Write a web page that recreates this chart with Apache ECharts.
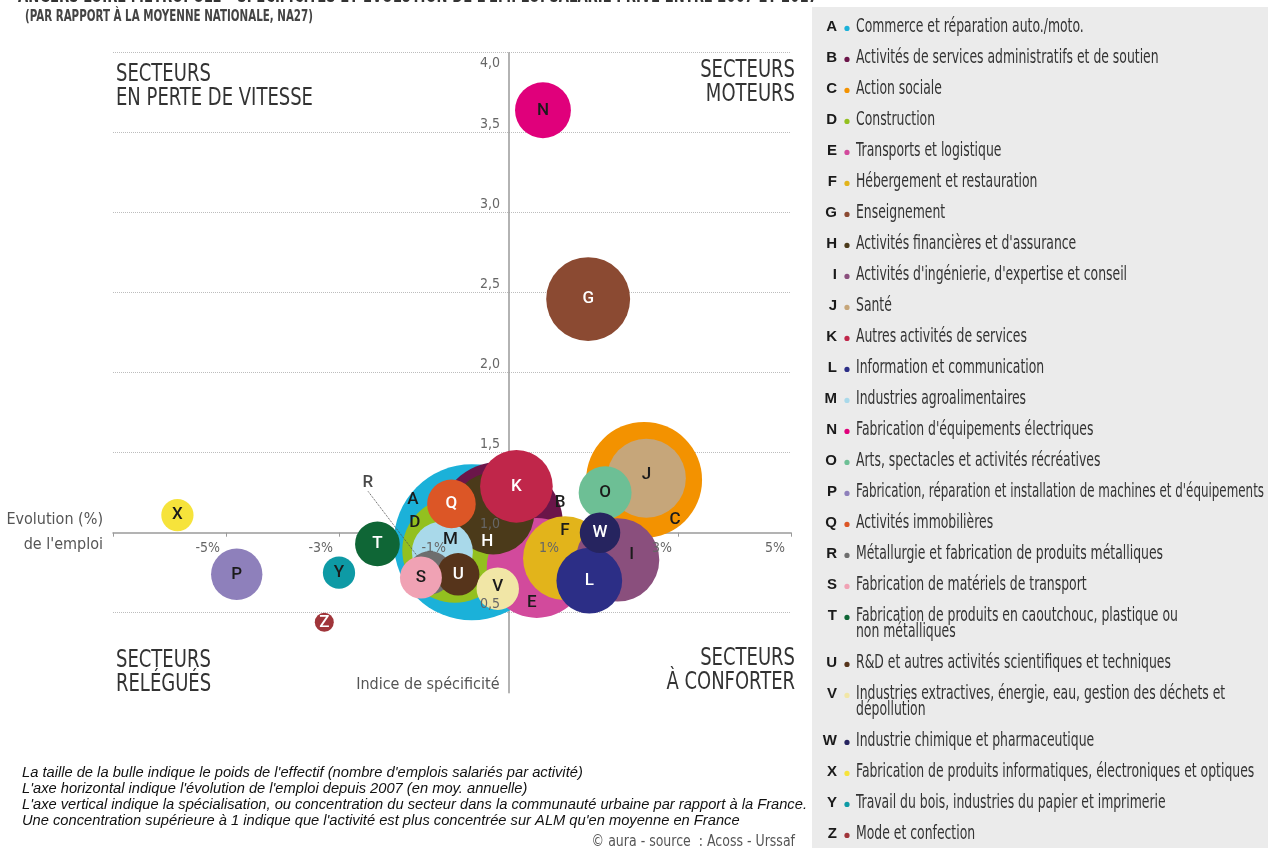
<!DOCTYPE html>
<html><head><meta charset="utf-8">
<script src="https://cdn.jsdelivr.net/npm/echarts@6/dist/echarts.min.js"></script>
<style>html,body{margin:0;padding:0;background:#fff}#chart{width:1268px;height:848px}</style>
</head><body><div id="chart"></div>
<script>
// ---- data ----
const letters = ['A','B','C','D','E','F','G','H','I','J','K','L','M','N','O','P','Q','R','S','T','U','V','W','X','Y','Z'];
const sectors = [
  'Commerce et réparation auto./moto.',
  'Activités de services administratifs et de soutien',
  'Action sociale',
  'Construction',
  'Transports et logistique',
  'Hébergement et restauration',
  'Enseignement',
  "Activités financières et d'assurance",
  "Activités d'ingénierie, d'expertise et conseil",
  'Santé',
  'Autres activités de services',
  'Information et communication',
  'Industries agroalimentaires',
  "Fabrication d'équipements électriques",
  'Arts, spectacles et activités récréatives',
  "Fabrication, réparation et installation de machines et d'équipements",
  'Activités immobilières',
  'Métallurgie et fabrication de produits métalliques',
  'Fabrication de matériels de transport',
  'Fabrication de produits en caoutchouc, plastique ou\nnon métalliques',
  'R&D et autres activités scientifiques et techniques',
  'Industries extractives, énergie, eau, gestion des déchets et\ndépollution',
  'Industrie chimique et pharmaceutique',
  'Fabrication de produits informatiques, électroniques et optiques',
  'Travail du bois, industries du papier et imprimerie',
  'Mode et confection'
];
// évolution annuelle moyenne de l'emploi depuis 2007 (%)
const evolution   = [-0.65,-0.15,2.40,-0.95,0.50,1.00,1.41,-0.27,1.93,2.44,0.14,1.43,-1.17,0.61,1.71,-4.81,-1.01,-1.39,-1.55,-2.32,-0.89,-0.19,1.62,-5.86,-3.00,-3.26];
// indice de spécificité
const specificite = [0.94,1.05,1.33,0.89,0.78,0.84,2.46,1.12,0.83,1.34,1.29,0.70,0.88,3.64,1.25,0.74,1.18,0.75,0.72,0.93,0.74,0.65,1.00,1.11,0.75,0.44];
// poids de l'effectif (relatif)
const poids       = [608,397,336,276,250,176,176,168,174,156,132,108,93,78,70,66,59,47,44,50,45,45,41,26,26,9];

const title = "ANGERS LOIRE MÉTROPOLE – SPÉCIFICITÉS ET ÉVOLUTION DE L'EMPLOI SALARIÉ PRIVÉ ENTRE 2007 ET 2017";
const subtitle = '(PAR RAPPORT À LA MOYENNE NATIONALE, NA27)';
const notes = [
  "La taille de la bulle indique le poids de l'effectif (nombre d'emplois salariés par activité)",
  "L'axe horizontal indique l'évolution de l'emploi depuis 2007 (en moy. annuelle)",
  "L'axe vertical indique la spécialisation, ou concentration du secteur dans la communauté urbaine par rapport à la France.",
  "Une concentration supérieure à 1 indique que l'activité est plus concentrée sur ALM qu'en moyenne en France"
];
const source = '© aura - source  : Acoss - Urssaf';
const quadrants = ['SECTEURS\nEN PERTE DE VITESSE','SECTEURS\nMOTEURS','SECTEURS\nRELÉGUÉS','SECTEURS\nÀ CONFORTER'];

// ---- styles / layout ----
const colors = ['#1bb1d9','#6b1549','#f39200','#93c01f','#d24a9c','#e2b41b','#8b4a32','#4b3a1a','#8a4f7d','#c6a67a',
  '#c0264a','#2c2e86','#a9d9ea','#e0007b','#6dbf95','#8e80bb','#dc5626','#6e6e6e','#f0a2b4','#0f6636',
  '#56341b','#f1e6a6','#26245f','#f6e33b','#0e9aa5','#a0353a'];
const whiteLabels = 'GHKLQTUWZ';
const calloutLetters = 'R';   // labels drawn outside their bubble with a leader line
const labelNudge = {A:[-59,-43],B:[60,-22],C:[31,40],D:[-40,-28],E:[-5,35],F:[0,-28],H:[-6,28],I:[14,-5],J:[0,-4],M:[8,-12],V:[0,-2],R:[-62,-90]};
const NARROW = '"DejaVu Sans Condensed","Liberation Sans Narrow",sans-serif';
const GRID = {left:113, right:477, top:52.7, bottom:155.3};
const X_MIN = -7, X_MAX = 5, Y_MIN = 0, Y_MAX = 4;
const gridW = 1268 - GRID.left - GRID.right, gridH = 848 - GRID.top - GRID.bottom;
const xZeroOffset = -gridW * (0 - X_MIN) / (X_MAX - X_MIN);   // move label axis onto x = 0
const yOneOffset  = -gridH * (1 - Y_MIN) / (Y_MAX - Y_MIN);   // horizontal axis crosses at indice = 1
const bubbleSize = val => 2*Math.sqrt(val[2]*10);
const labelFont = {fontFamily:'Roboto,sans-serif', fontWeight:500, fontSize:17};

const order = letters.map((l,i)=>i).sort((a,b)=>poids[b]-poids[a]);
const data = order.map(i => ({
  name: sectors[i].replace('\n',' '),
  value: [evolution[i], specificite[i], poids[i]],
  itemStyle: {color: colors[i]},
  label: {show: !calloutLetters.includes(letters[i]), formatter: letters[i],
          color: whiteLabels.includes(letters[i]) ? '#ffffff' : '#1b1b1b'}
}));
const calloutIdx = letters.map((l,i)=>i).filter(i => calloutLetters.includes(letters[i]));
const calloutData = calloutIdx.map(i => ({
  name: sectors[i], value: [evolution[i], specificite[i], poids[i]],
  label: {formatter: letters[i]}
}));

// ---- graphics: legend panel, quadrant titles, notes ----
const measure = document.createElement('canvas').getContext('2d');
const LEG_FONT = '20px ' + NARROW, LEG_MAXW = 408;
measure.font = LEG_FONT;
const g = [];
g.push({type:'rect', silent:true, shape:{x:812,y:7,width:456,height:841}, style:{fill:'#ebebeb'}});
const ROW = 31.0, EXTRA = 16, LH = 16.5;
let cursor = 10.9;
letters.forEach((l,i)=>{
  const n = sectors[i].split('\n').length;
  const y1 = cursor + ROW/2;
  cursor += ROW + EXTRA*(n-1);
  const w = Math.max(...sectors[i].split('\n').map(s => measure.measureText(s).width));
  const sx = Math.min(0.69, LEG_MAXW / w);
  g.push({type:'text', x:837, y:y1, style:{text:l, font:'bold 15px "Liberation Sans",Arial,sans-serif', fill:'#1a1a1a', align:'right', verticalAlign:'middle', textAlign:'right', textVerticalAlign:'middle'}});
  g.push({type:'circle', shape:{cx:847, cy:y1+2, r:2.6}, style:{fill:colors[i]}});
  g.push({type:'text', x:856, y:y1-LH/2, scaleX:sx, style:{text:sectors[i], font:LEG_FONT, fill:'#333', lineHeight:LH, align:'left', verticalAlign:'top', textAlign:'left', textVerticalAlign:'top'}});
});
const quadPos = [[116,62,'left'],[795,58,'right'],[116,648,'left'],[795,646,'right']];
quadrants.forEach((q,k)=>{
  g.push({type:'text', x:quadPos[k][0], y:quadPos[k][1], scaleX:0.80, style:{text:q, font:'25px '+NARROW, fill:'#333', lineHeight:24, align:quadPos[k][2], textAlign:quadPos[k][2], verticalAlign:'top', textVerticalAlign:'top'}});
});
g.push({type:'text', x:18, y:-4, scaleX:0.665, style:{text:title, font:'bold 22px '+NARROW, fill:'#333', align:'left', textAlign:'left', verticalAlign:'middle', textVerticalAlign:'middle'}});
g.push({type:'text', x:25, y:17, scaleX:0.716, style:{text:subtitle, font:'bold 16px '+NARROW, fill:'#444', align:'left', textAlign:'left', verticalAlign:'middle', textVerticalAlign:'middle'}});
g.push({type:'text', x:22, y:765, style:{text:notes.join('\n'), font:'italic 14.7px "Liberation Sans",Arial,sans-serif', fill:'#111', lineHeight:16, align:'left', textAlign:'left', verticalAlign:'top', textVerticalAlign:'top'}});
g.push({type:'text', x:795, y:842, scaleX:0.93, style:{text:source, font:'15px '+NARROW, fill:'#555', align:'right', textAlign:'right', verticalAlign:'middle', textVerticalAlign:'middle'}});

const axisGrey = '#9a9a9a';
const splitColors = ['rgba(0,0,0,0)','#bdbdbd','rgba(0,0,0,0)','#bdbdbd','#bdbdbd','#bdbdbd','#bdbdbd','#bdbdbd','#bdbdbd'];
const fmtDec = v => v.toFixed(1).replace('.',',');
const tickFont = {fontFamily:NARROW, fontSize:14, color:'#666'};

const option = {
  animation: false,
  backgroundColor: '#ffffff',
  grid: Object.assign({outerBoundsMode:'none', containLabel:false}, GRID),
  xAxis: [
    {type:'value', min:X_MIN, max:X_MAX, interval:2, position:'bottom', offset:yOneOffset,
     axisLine:{show:true, onZero:false, lineStyle:{color:axisGrey, width:1.5}},
     axisTick:{show:true, length:4, lineStyle:{color:axisGrey}},
     axisLabel:{show:false}, splitLine:{show:false},
     name:"Evolution (%)\nde l'emploi", nameLocation:'start', nameGap:10, nameMoveOverlap:false,
     nameTextStyle:{fontFamily:NARROW, fontSize:16, color:'#555', lineHeight:25, align:'right', verticalAlign:'middle', padding:[5,0,0,0]}},
    {type:'value', min:X_MIN, max:X_MAX, interval:2, position:'bottom', offset:yOneOffset, z:10,
     axisLine:{show:false, onZero:false}, axisTick:{show:false}, splitLine:{show:false},
     axisLabel:Object.assign({show:true, margin:9, align:'right', padding:[0,6,0,0],
       formatter: v => v === X_MIN ? '' : v + '%'}, tickFont)}
  ],
  yAxis: [
    {type:'value', min:Y_MIN, max:Y_MAX, interval:0.5, position:'left',
     axisLine:{show:true, onZero:true, lineStyle:{color:axisGrey, width:1.5}},
     axisTick:{show:false}, axisLabel:{show:false},
     splitLine:{show:true, lineStyle:{type:'dotted', width:1, color:splitColors}},
     name:'Indice de spécificité', nameLocation:'start', nameGap:0, nameMoveOverlap:false,
     nameTextStyle:{fontFamily:NARROW, fontSize:16, color:'#555', align:'right', verticalAlign:'bottom', padding:[0,9,0,0]}},
    {type:'value', min:Y_MIN, max:Y_MAX, interval:0.5, position:'left', offset:xZeroOffset, z:10,
     axisLine:{show:false, onZero:false}, axisTick:{show:false}, splitLine:{show:false},
     axisLabel:Object.assign({show:true, margin:8.5, verticalAlign:'middle',
       formatter: v => v === Y_MIN ? '' : (v === Y_MAX ? '{top|' + fmtDec(v) + '}' : '{up|' + fmtDec(v) + '}'),
       rich:{
         up:  Object.assign({lineHeight:16, padding:[0,0,16,0]}, tickFont),
         top: Object.assign({lineHeight:16, padding:[22,0,0,0]}, tickFont)
       }}, tickFont)}
  ],
  series: [{
    type:'scatter', xAxisIndex:0, yAxisIndex:0, z:2,
    symbolSize: bubbleSize,
    itemStyle:{opacity:1},
    label:Object.assign({show:true, position:'inside'}, labelFont),
    labelLayout: p => {
      const nudge = labelNudge[letters[order[p.dataIndex]]];
      return nudge ? {dx:nudge[0], dy:nudge[1]} : {};
    },
    emphasis:{disabled:true},
    data: data
  }, {
    // callout labels (leader line drawn above the bubble cluster)
    type:'scatter', xAxisIndex:0, yAxisIndex:0, z:4,
    symbolSize: bubbleSize,
    itemStyle:{color:'rgba(0,0,0,0)'},
    label:Object.assign({show:true, position:'inside', color:'#1b1b1b'}, labelFont),
    labelLine:{show:true, lineStyle:{color:'#555', type:'dotted', width:1}},
    labelLayout: p => {
      const nudge = labelNudge[letters[calloutIdx[p.dataIndex]]];
      return nudge ? {dx:nudge[0], dy:nudge[1]} : {};
    },
    emphasis:{disabled:true}, silent:true,
    data: calloutData
  }],
  graphic: g
};
const chart = echarts.init(document.getElementById('chart'));
chart.setOption(option);
</script>
</body></html>
